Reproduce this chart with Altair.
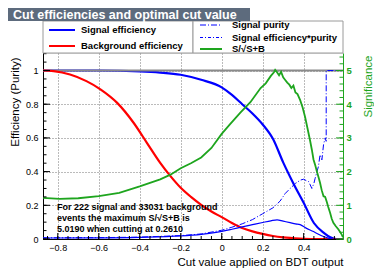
import altair as alt
import pandas as pd

# ---------------- data ----------------
sig_eff_x = [-0.872, -0.6, -0.4, -0.3, -0.2, -0.1, 0.0, 0.05, 0.1, 0.15, 0.2, 0.25,
             0.3, 0.35, 0.4, 0.45, 0.5, 0.53, 0.56, 0.592]
sig_eff_y = [1.0, 1.0, 0.995, 0.988, 0.975, 0.945, 0.90, 0.855, 0.80, 0.745, 0.68, 0.595,
             0.455, 0.33, 0.215, 0.095, 0.035, 0.01, 0.0, 0.0]

bkg_eff_x = [-0.872, -0.82, -0.74, -0.66, -0.59, -0.51, -0.43, -0.365, -0.3, -0.25, -0.2,
             -0.15, -0.1, -0.05, 0.0, 0.05, 0.1, 0.15, 0.2, 0.25, 0.3, 0.38, 0.45, 0.592]
bkg_eff_y = [1.0, 0.996, 0.976, 0.937, 0.887, 0.808, 0.69, 0.571, 0.452, 0.373, 0.304,
             0.25, 0.203, 0.163, 0.13, 0.095, 0.065, 0.045, 0.03, 0.018, 0.01, 0.003, 0.0, 0.0]

purity_x = [-0.872, -0.6, -0.4, -0.2, -0.1, 0.0, 0.05, 0.1, 0.15, 0.2, 0.25, 0.285, 0.31,
            0.334, 0.36, 0.385, 0.4, 0.415, 0.425, 0.44, 0.45, 0.456, 0.465, 0.472, 0.48,
            0.489, 0.497, 0.505, 0.51, 0.51, 0.592]
purity_y = [0.007, 0.008, 0.011, 0.02, 0.03, 0.052, 0.07, 0.09, 0.115, 0.15, 0.185, 0.225,
            0.27, 0.30, 0.33, 0.35, 0.355, 0.345, 0.34, 0.30, 0.33, 0.36, 0.40, 0.43, 0.50,
            0.47, 0.56, 0.60, 0.58, 1.0, 1.0]

effpur_x = [-0.872, -0.6, -0.4, -0.2, -0.1, 0.0, 0.05, 0.1, 0.15, 0.2, 0.24, 0.27, 0.3,
            0.334, 0.36, 0.383, 0.41, 0.448, 0.47, 0.497, 0.52, 0.545, 0.592]
effpur_y = [0.006, 0.007, 0.01, 0.018, 0.028, 0.045, 0.058, 0.072, 0.085, 0.098, 0.108,
            0.114, 0.106, 0.097, 0.09, 0.085, 0.066, 0.044, 0.03, 0.015, 0.005, 0.0, 0.0]

signif_x = [-0.872, -0.79, -0.7, -0.6, -0.5, -0.4, -0.3, -0.25, -0.2, -0.15, -0.1, -0.05,
            0.0, 0.04, 0.09, 0.14, 0.19, 0.215, 0.24, 0.255, 0.261, 0.27, 0.28, 0.29, 0.3,
            0.31, 0.32, 0.33, 0.34, 0.35, 0.36, 0.37, 0.383, 0.395, 0.407, 0.42, 0.432,
            0.44, 0.448, 0.456, 0.464, 0.472, 0.48, 0.488, 0.497, 0.505, 0.513, 0.52,
            0.529, 0.537, 0.545, 0.557, 0.57, 0.586, 0.592]
signif_y = [1.22, 1.19, 1.21, 1.27, 1.37, 1.56, 1.77, 1.91, 2.1, 2.25, 2.42, 2.7,
            3.12, 3.40, 3.74, 4.06, 4.48, 4.62, 4.84, 4.95, 5.019, 4.95, 4.86, 4.96, 4.80,
            4.72, 4.64, 4.58, 4.48, 4.55, 4.35, 4.30, 4.12, 3.90, 3.62, 3.25, 2.90,
            2.65, 2.36, 2.20, 2.02, 1.85, 1.67, 1.45, 1.27, 1.25, 1.10, 0.95,
            0.78, 0.60, 0.48, 0.38, 0.28, 0.13, 0.05]

x_major = [-0.8, -0.6, -0.4, -0.2, 0.0, 0.2, 0.4]
x_minor = [round(-0.85 + 0.05 * k, 2) for k in range(29)]
y_major = [0.0, 0.2, 0.4, 0.6, 0.8, 1.0]
y_minor = [round(0.05 * k, 2) for k in range(23)]
s_major = [0, 1, 2, 3, 4, 5]
s_minor = [round(0.2 * k, 1) for k in range(28)]

title_text = "Cut efficiencies and optimal cut value"
note_lines = ["For 222 signal and 33031 background",
              "events the maximum S/\u221aS+B is",
              "5.0190 when cutting at 0.2610"]

# ---------------- styling ----------------
W, H = 300, 186
XDOM = [-0.872, 0.592]
YDOM = [0, 1.104]
SDOM = [0, 5.52]
BLUE, RED, GREEN = "#0000ff", "#ff0000", "#1ea51e"
FONT = "Liberation Sans"

xs = alt.Scale(domain=XDOM, nice=False, zero=False)
ys = alt.Scale(domain=YDOM, nice=False, zero=False)
ss = alt.Scale(domain=SDOM, nice=False, zero=False)


def df(xv, yv):
    return pd.DataFrame({"cut": xv, "val": yv, "i": list(range(len(xv)))})


one = pd.DataFrame({"a": [0]})

x_axis = alt.Axis(values=x_major, grid=True, gridDash=[1, 2], gridColor="#777",
                  gridWidth=1, tickSize=0, domainColor="black", domainWidth=1,
                  labelExpr="datum.value == 0 ? '0' : format(datum.value, '.1f')",
                  labelFontSize=9, labelPadding=4, labelColor="black",
                  title="Cut value applied on BDT output", titleFontSize=11.5,
                  titleFontWeight="normal", titleAlign="right", titleAngle=0,
                  titleX=W, titleY=23, titleBaseline="middle", titleColor="black")
y_axis = alt.Axis(values=y_major, grid=True, gridDash=[1, 2], gridColor="#777",
                  gridWidth=1, tickSize=0, domainColor="black", domainWidth=1,
                  labelExpr="datum.value == 0 ? '0' : datum.value == 1 ? '1' : format(datum.value, '.1f')",
                  labelFontSize=9, labelPadding=5, labelColor="black",
                  title="Efficiency (Purity)", titleFontSize=11.5, titleFontWeight="normal",
                  titleAngle=270, titleAlign="right", titleBaseline="middle",
                  titleX=-28, titleY=4, titleColor="black")
s_axis = alt.Axis(values=s_major, orient="right", grid=False, tickSize=0,
                  domainColor=GREEN, domainWidth=1, format="d",
                  labelFontSize=9.5, labelFontWeight="bold", labelPadding=3,
                  labelColor=GREEN, title="Significance", titleFontSize=11.5,
                  titleFontWeight="normal", titleAngle=270, titleAlign="right",
                  titleBaseline="middle", titleX=25, titleY=2, titleColor=GREEN)


def X():
    return alt.X("cut:Q", scale=xs, axis=x_axis)


base = alt.Chart(df(sig_eff_x, sig_eff_y)).mark_line(
    color=BLUE, strokeWidth=2.2, interpolate="monotone", clip=True
).encode(x=X(), y=alt.Y("val:Q", scale=ys, axis=y_axis), order="i:Q")

unit_line = alt.Chart(pd.DataFrame({"val": [1.0]})).mark_rule(
    color="#8a8a8a", strokeWidth=2).encode(y=alt.Y("val:Q", scale=ys, axis=None))

bkg = alt.Chart(df(bkg_eff_x, bkg_eff_y)).mark_line(
    color=RED, strokeWidth=2.2, interpolate="monotone", clip=True
).encode(x=X(), y=alt.Y("val:Q", scale=ys, axis=None), order="i:Q")

pur = alt.Chart(df(purity_x, purity_y)).mark_line(
    color=BLUE, strokeWidth=1, strokeDash=[6, 2, 1, 2], clip=True
).encode(x=X(), y=alt.Y("val:Q", scale=ys, axis=None), order="i:Q")

effpur = alt.Chart(df(effpur_x, effpur_y)).mark_line(
    color=BLUE, strokeWidth=1.2, interpolate="monotone", clip=True
).encode(x=X(), y=alt.Y("val:Q", scale=ys, axis=None), order="i:Q")

signif = alt.Chart(df(signif_x, signif_y)).mark_line(
    color=GREEN, strokeWidth=1.8, clip=True
).encode(x=X(), y=alt.Y("val:Q", scale=ss, axis=s_axis), order="i:Q")

# inside ticks (ROOT style)
xt_maj = alt.Chart(pd.DataFrame({"cut": x_major})).mark_rule(color="black").encode(
    x=X(), y=alt.value(H), y2=alt.value(H - 6))
xt_min = alt.Chart(pd.DataFrame({"cut": x_minor})).mark_rule(color="black").encode(
    x=X(), y=alt.value(H), y2=alt.value(H - 3))
yt_maj = alt.Chart(pd.DataFrame({"val": y_major})).mark_rule(color="black").encode(
    y=alt.Y("val:Q", scale=ys, axis=None), x=alt.value(0), x2=alt.value(7))
yt_min = alt.Chart(pd.DataFrame({"val": y_minor})).mark_rule(color="black").encode(
    y=alt.Y("val:Q", scale=ys, axis=None), x=alt.value(0), x2=alt.value(3.5))
st_maj = alt.Chart(pd.DataFrame({"val": s_major})).mark_rule(color=GREEN).encode(
    y=alt.Y("val:Q", scale=ss, axis=None), x=alt.value(W), x2=alt.value(W - 7))
st_min = alt.Chart(pd.DataFrame({"val": s_minor})).mark_rule(color=GREEN).encode(
    y=alt.Y("val:Q", scale=ss, axis=None), x=alt.value(W), x2=alt.value(W - 3.5))

# annotation
note = alt.Chart(one).mark_text(
    text=note_lines, align="left", baseline="middle", lineHeight=11,
    font=FONT, fontSize=9, fontWeight="bold", color="black"
).encode(x=alt.value(14), y=alt.value(154))


# legend boxes
def box(x0, x1):
    return alt.Chart(one).mark_rect(fill="white", stroke="#9a9a9a", strokeWidth=1).encode(
        x=alt.value(x0), x2=alt.value(x1), y=alt.value(-32), y2=alt.value(0))


def leg_line(x0, x1, y, color, width, dash=None):
    kw = dict(color=color, strokeWidth=width)
    if dash:
        kw["strokeDash"] = dash
    return alt.Chart(one).mark_rule(**kw).encode(
        x=alt.value(x0), x2=alt.value(x1), y=alt.value(y))


def leg_text(x, y, t):
    return alt.Chart(one).mark_text(text=t, align="left", baseline="middle", font=FONT,
                                    fontSize=9.5, fontWeight="bold", color="black").encode(
        x=alt.value(x), y=alt.value(y))


legend = [
    box(0, 150), box(150, 300),
    leg_line(6, 32, -23, BLUE, 2), leg_text(38, -23, "Signal efficiency"),
    leg_line(6, 32, -7, RED, 2), leg_text(38, -7, "Background efficiency"),
    leg_line(157, 179, -28, BLUE, 1, [6, 2, 1, 2]), leg_text(189, -28, "Signal purity"),
    leg_line(157, 179, -15.5, BLUE, 1, [3, 2, 1, 2]), leg_text(189, -15.5, "Signal efficiency*purity"),
    leg_line(157, 179, -4, GREEN, 2), leg_text(189, -4, "S/\u221aS+B"),
]

title_box = alt.Chart(one).mark_rect(fill="#5d6b7d").encode(
    x=alt.value(-35), x2=alt.value(207), y=alt.value(-45), y2=alt.value(-32))
title_txt = alt.Chart(one).mark_text(
    text=title_text, align="left", baseline="middle", font=FONT, fontSize=12.5,
    fontWeight="bold", color="white").encode(x=alt.value(-30), y=alt.value(-38))

chart = alt.layer(
    base, unit_line, bkg, pur, effpur, signif,
    xt_maj, xt_min, yt_maj, yt_min, st_maj, st_min,
    note, *legend, title_box, title_txt
).resolve_scale(y="independent").properties(
    width=W, height=H,
    padding={"left": 35, "top": 45, "right": 31, "bottom": 34},
    autosize=alt.AutoSizeParams(type="none"),
).configure_view(stroke=None).configure(font=FONT, background="white")

chart.save("out.html", embed_options={"renderer": "svg", "actions": False})
